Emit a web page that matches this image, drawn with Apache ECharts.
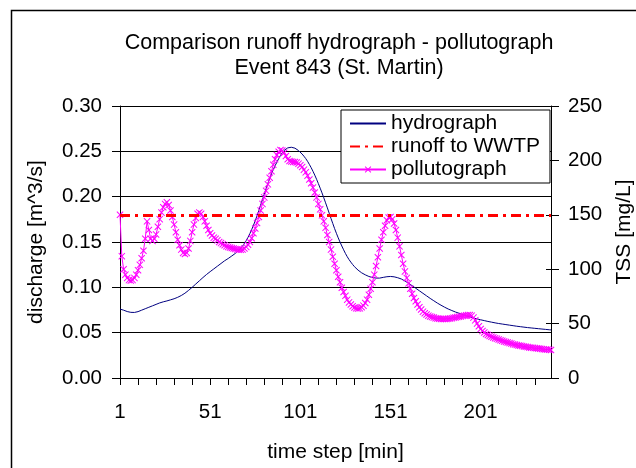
<!DOCTYPE html>
<html><head><meta charset="utf-8">
<script src="https://cdn.jsdelivr.net/npm/echarts@6/dist/echarts.min.js"></script>
<style>html,body{margin:0;padding:0;background:#fff;}#c{width:636px;height:468px;}</style>
</head><body><div id="c"></div>
<script>
// ---- data ----
const titleLines = ['Comparison runoff hydrograph - pollutograph', 'Event 843 (St. Martin)'];
const timeStepCount = 240;
const timeSteps = Array.from({length: timeStepCount}, (_, i) => String(i + 1));
const leftTicks = [0, 0.05, 0.10, 0.15, 0.20, 0.25, 0.30];
const rightTicks = [0, 50, 100, 150, 200, 250];
const runoffToWWTP = 0.18; // m^3/s threshold

// discharge [m^3/s]
const hydrograph = [
0.0760,0.0755,0.0748,0.0740,0.0733,0.0728,0.0724,0.0722,0.0723,0.0726,
0.0732,0.0740,0.0748,0.0756,0.0764,0.0772,0.0780,0.0788,0.0796,0.0804,
0.0812,0.0820,0.0828,0.0835,0.0840,0.0845,0.0850,0.0856,0.0862,0.0868,
0.0874,0.0882,0.0890,0.0899,0.0910,0.0922,0.0935,0.0950,0.0966,0.0983,
0.1000,0.1018,0.1036,0.1054,0.1072,0.1090,0.1108,0.1125,0.1142,0.1158,
0.1173,0.1188,0.1203,0.1218,0.1233,0.1248,0.1263,0.1278,0.1293,0.1306,
0.1318,0.1332,0.1346,0.1360,0.1375,0.1390,0.1410,0.1432,0.1456,0.1484,
0.1516,0.1552,0.1592,0.1636,0.1684,0.1735,0.1790,0.1848,0.1908,0.1968,
0.2028,0.2088,0.2146,0.2200,0.2252,0.2300,0.2342,0.2380,0.2420,0.2455,
0.2485,0.2510,0.2528,0.2538,0.2543,0.2545,0.2542,0.2535,0.2524,0.2508,
0.2490,0.2470,0.2446,0.2420,0.2390,0.2356,0.2320,0.2280,0.2238,0.2192,
0.2144,0.2094,0.2042,0.1988,0.1932,0.1876,0.1818,0.1760,0.1704,0.1648,
0.1596,0.1546,0.1500,0.1456,0.1414,0.1374,0.1338,0.1306,0.1278,0.1252,
0.1228,0.1208,0.1190,0.1174,0.1160,0.1148,0.1138,0.1128,0.1120,0.1114,
0.1108,0.1104,0.1102,0.1101,0.1102,0.1106,0.1110,0.1114,0.1117,0.1119,
0.1120,0.1119,0.1116,0.1111,0.1106,0.1100,0.1092,0.1082,0.1070,0.1058,
0.1045,0.1032,0.1018,0.1004,0.0990,0.0976,0.0962,0.0948,0.0934,0.0920,
0.0906,0.0892,0.0878,0.0865,0.0852,0.0839,0.0826,0.0814,0.0803,0.0792,
0.0781,0.0771,0.0761,0.0752,0.0744,0.0736,0.0728,0.0721,0.0714,0.0707,
0.0700,0.0693,0.0686,0.0680,0.0674,0.0668,0.0662,0.0657,0.0652,0.0647,
0.0642,0.0637,0.0633,0.0628,0.0624,0.0620,0.0616,0.0612,0.0608,0.0605,
0.0601,0.0598,0.0595,0.0592,0.0589,0.0586,0.0583,0.0580,0.0577,0.0574,
0.0571,0.0568,0.0566,0.0563,0.0561,0.0558,0.0556,0.0554,0.0552,0.0550,
0.0548,0.0546,0.0544,0.0542,0.0540,0.0538,0.0536,0.0534,0.0532,0.0530
];

// TSS [mg/L]
const pollutograph = [
150,112,100,95,92,90,89.5,90,92,95,
99,104,110,117,128,144,136,128,126,128,
132,139,146,152,157,160,161.5,159,154,148,
141,134,127,122,118,115,114,115,119,126,
134,141,147,151,152,151,148,144,140,136,
133,131,129,128,126.5,125,124,123,122,121,
120.5,120,119.5,119,118.5,118,117.8,117.8,118,119,
120.5,122.5,125,128.5,133,137.5,142.5,148,154,160,
166,172,178,184,190,196,201,205,208,209.5,
209,207,204,201,199.5,199,198.5,198.5,198,197,
195.5,194,191.5,189,186,182.5,179,175,170.5,166,
160,155,149.5,144,138,131.5,125,118,111.5,105,
99,93,88,83,79,75.5,72,69.5,67.5,66,
64.8,64,63.8,64,65,66.5,69,72,76.5,82,
88,95,103,111,119,127,134,140,145,147.5,
148,146,142,136,129,121,113,105,98,92,
87,82,77.5,73.5,70.5,67.5,65,63,61,59.5,
58.3,57.3,56.5,56,55.5,55,54.7,54.5,54.3,54.2,
54.2,54.3,54.5,54.7,55,55.3,55.6,56,56.3,56.6,
57,57.3,57.6,57.8,57.8,57.3,55.5,53,50,47.5,
45,43.2,41.8,40.5,39.5,38.7,37.9,37.2,36.6,36,
35.4,34.8,34.2,33.6,33.1,32.6,32.1,31.6,31.1,30.7,
30.3,29.9,29.6,29.3,29,28.7,28.4,28.1,27.9,27.7,
27.5,27.3,27.1,26.9,26.7,26.5,26.3,26.1,25.9,25.7
];

// ---- chart ----
const FONT = '"Liberation Sans", Arial, sans-serif';
const FS = 20.5;
const chart = echarts.init(document.getElementById('c'), null, {renderer: 'canvas'});
const xSymbol = 'path://M0,1L1,0L5,4L9,0L10,1L6,5L10,9L9,10L5,6L1,10L0,9L4,5Z';

chart.setOption({
  animation: false,
  backgroundColor: '#fff',
  textStyle: {fontFamily: FONT, color: '#000'},
  graphic: [{
    type: 'rect', left: 9, top: 8, silent: true,
    shape: {x: 0, y: 0, width: 700, height: 600},
    style: {fill: 'none', stroke: '#000', lineWidth: 1.5}
  }],
  title: {
    text: titleLines.join('\n'),
    left: 334, top: 26, textAlign: 'center',
    textStyle: {fontFamily: FONT, fontSize: 21.5, fontWeight: 'normal', color: '#000', lineHeight: 25}
  },
  legend: {
    orient: 'vertical', left: 341, top: 110,
    padding: [3, 10, 3, 8], itemGap: 2, itemWidth: 36, itemHeight: 8, itemTextGap: 6,
    backgroundColor: '#fff', borderColor: '#000', borderWidth: 1,
    textStyle: {fontFamily: FONT, fontSize: 21, color: '#000', lineHeight: 21},
    data: [
      {name: 'hydrograph', itemStyle: {opacity: 0}},
      {name: 'runoff to WWTP', itemStyle: {opacity: 0}},
      {name: 'pollutograph'}
    ]
  },
  grid: {left: 120, right: 85, top: 106, bottom: 90, outerBoundsMode: 'none', containLabel: false},
  xAxis: {
    type: 'category', data: timeSteps, boundaryGap: false,
    name: 'time step [min]', nameLocation: 'middle', nameGap: 64,
    nameTextStyle: {fontFamily: FONT, fontSize: 21, color: '#000'},
    axisLine: {lineStyle: {color: '#000', width: 1}},
    axisTick: {interval: 9, length: 7, lineStyle: {color: '#000'}},
    axisLabel: {interval: 49, margin: 24, fontFamily: FONT, fontSize: FS, color: '#000'},
    splitLine: {show: false}
  },
  yAxis: [{
    type: 'value', position: 'left', min: 0, max: 0.30, interval: 0.05,
    name: 'discharge [m^3/s]', nameLocation: 'middle', nameGap: 73,
    nameTextStyle: {fontFamily: FONT, fontSize: 21, color: '#000'},
    axisLine: {show: true, lineStyle: {color: '#000', width: 1}},
    axisTick: {show: true, length: 8, lineStyle: {color: '#000'}},
    axisLabel: {margin: 18, fontFamily: FONT, fontSize: FS, color: '#000',
      formatter: v => leftTicks.includes(+v.toFixed(2)) ? v.toFixed(2) : ''},
    splitLine: {show: true, lineStyle: {color: '#000', width: 1}}
  }, {
    type: 'value', position: 'right', min: 0, max: 250, interval: 50,
    name: 'TSS [mg/L]', nameLocation: 'middle', nameGap: 63,
    nameTextStyle: {fontFamily: FONT, fontSize: 21, color: '#000', padding: [0, 0, 0, 20]},
    axisLine: {show: true, lineStyle: {color: '#000', width: 1}},
    axisTick: {show: true, length: 8, lineStyle: {color: '#000'}},
    axisLabel: {margin: 17, fontFamily: FONT, fontSize: FS, color: '#000',
      formatter: v => rightTicks.includes(v) ? String(v) : ''},
    splitLine: {show: false}
  }, {
    type: 'value', position: 'right', min: 0, max: 250, interval: 50,
    axisLine: {show: false},
    axisTick: {show: true, inside: true, length: 5, lineStyle: {color: '#000'}},
    axisLabel: {show: false}, splitLine: {show: false}
  }],
  series: [{
    name: 'hydrograph', type: 'line', yAxisIndex: 0, data: hydrograph,
    showSymbol: false, symbol: 'none', smooth: false,
    lineStyle: {color: '#000080', width: 1}, itemStyle: {color: '#000080'}, z: 2
  }, {
    name: 'runoff to WWTP', type: 'line', yAxisIndex: 0, data: [],
    symbol: 'none',
    lineStyle: {color: '#ff0000', width: 3, type: [10, 5, 3, 5]}, itemStyle: {color: '#ff0000'},
    markLine: {
      silent: true, symbol: ['none', 'none'], label: {show: false},
      lineStyle: {color: '#ff0000', width: 3, type: [10, 5, 3, 5]},
      data: [{yAxis: runoffToWWTP}]
    }, z: 3
  }, {
    name: 'pollutograph', type: 'line', yAxisIndex: 1, data: pollutograph,
    symbol: xSymbol, symbolSize: 7, showAllSymbol: true,
    lineStyle: {color: '#ff00ff', width: 1}, itemStyle: {color: '#ff00ff'}, z: 4
  }]
});
</script></body></html>
